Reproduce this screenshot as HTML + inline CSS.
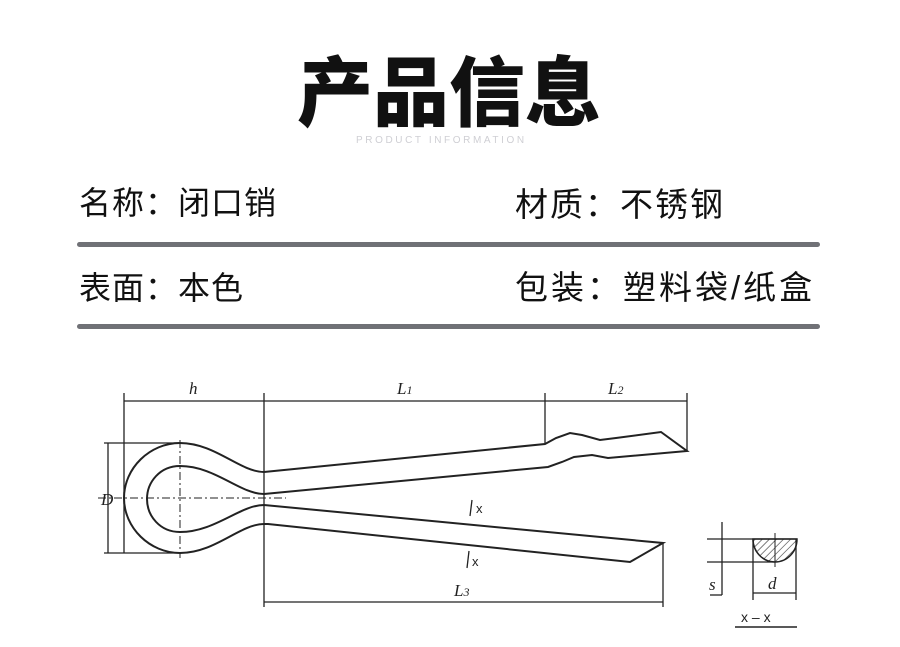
<!DOCTYPE html>
<html><head><meta charset="utf-8"><style>
body{margin:0;background:#fff;}
#c{position:relative;width:900px;height:647px;overflow:hidden;background:#fff;font-family:"Liberation Sans","Noto Sans CJK SC",sans-serif;}
.t{position:absolute;white-space:nowrap;color:#111;}
.bar{position:absolute;left:77px;width:743px;height:5px;background:#707176;border-radius:3px;}
</style></head><body><div id="c">
<div class="t" style="left:297px;top:39px;font-size:76px;font-weight:900;line-height:96px;font-family:'Noto Sans CJK SC',sans-serif;letter-spacing:0px;">产品信息</div>
<div class="t" style="left:356px;top:135px;font-size:10px;color:#cfcfd4;letter-spacing:2.6px;">PRODUCT INFORMATION</div>
<div class="t" style="left:79px;top:183px;font-size:32px;line-height:40px;letter-spacing:1px;">名称：闭口销</div>
<div class="t" style="left:515px;top:185px;font-size:33px;line-height:40px;letter-spacing:2px;">材质：不锈钢</div>
<div class="bar" style="top:242px"></div>
<div class="t" style="left:79px;top:268px;font-size:32px;line-height:40px;letter-spacing:1px;">表面：本色</div>
<div class="t" style="left:515px;top:268px;font-size:33px;line-height:40px;letter-spacing:3px;">包装：塑料袋/纸盒</div>
<div class="bar" style="top:324px"></div>
<svg width="900" height="647" style="position:absolute;left:0;top:0" fill="none" stroke="#222" stroke-width="1.3">
<defs><pattern id="h" width="5" height="5" patternUnits="userSpaceOnUse" patternTransform="rotate(45)"><line x1="0" y1="0" x2="0" y2="5" stroke="#333" stroke-width="1.2"/></pattern></defs>
<line x1="124" y1="393" x2="124" y2="553"/>
<line x1="264" y1="393" x2="264" y2="607"/>
<line x1="545" y1="393" x2="545" y2="444"/>
<line x1="687" y1="393" x2="687" y2="451"/>
<line x1="124" y1="401" x2="687" y2="401"/>
<line x1="663" y1="543" x2="663" y2="607"/>
<line x1="264" y1="602" x2="663" y2="602"/>
<line x1="104" y1="443" x2="181" y2="443"/>
<line x1="104" y1="553" x2="181" y2="553"/>
<line x1="108" y1="443" x2="108" y2="553"/>
<line x1="98" y1="498" x2="286" y2="498" stroke-dasharray="8 3 2 3" stroke-width="1"/>
<line x1="180" y1="440" x2="180" y2="558" stroke-dasharray="8 3 2 3" stroke-width="1"/>
<path stroke-width="2" d="M264 472 L545 444 L556 438 L570 433 L582 435 L600 440 L616 438 L661 432 L687 451 L608 458 L592 455 L574 457 L562 462 L548 467 L264 494 C240 494 215 466 180 466 C160 466 147 482 147 499 C147 516 160 532 180 532 C215 532 240 505 264 505 L663 543 L630 562 L268 524 L264 524 C240 524 215 553 180 553 C150 553 124 528 124 498 C124 468 150 443 180 443 C215 443 240 472 264 472 Z"/>
<line x1="472" y1="500" x2="470" y2="516" stroke-width="1.3"/>
<line x1="469" y1="551" x2="467" y2="568" stroke-width="1.3"/>
<line x1="707" y1="539" x2="797" y2="539"/>
<line x1="707" y1="562" x2="775" y2="562"/>
<path d="M753 539 L797 539 C797 552 787 562 775 562 C763 562 753 552 753 539 Z" fill="url(#h)" stroke-width="1.5"/>
<line x1="722" y1="522" x2="722" y2="595"/>
<line x1="710" y1="595" x2="722" y2="595"/>
<line x1="753" y1="539" x2="753" y2="600"/>
<line x1="796" y1="539" x2="796" y2="600"/>
<line x1="753" y1="593" x2="796" y2="593"/>
<line x1="775" y1="533" x2="775" y2="567" stroke-width="1"/>
<line x1="735" y1="627" x2="797" y2="627" stroke-width="1.5"/>
<g fill="#222" stroke="none" font-family="Liberation Serif,serif" font-style="italic" font-size="17">
<text x="189" y="394">h</text>
<text x="397" y="394">L<tspan font-size="12">1</tspan></text>
<text x="608" y="394">L<tspan font-size="12">2</tspan></text>
<text x="454" y="596">L<tspan font-size="12">3</tspan></text>
<text x="101" y="505">D</text>
<text x="709" y="590">s</text>
<text x="768" y="589">d</text>
<text x="476" y="513" font-style="normal" font-size="13" font-family="Liberation Sans,sans-serif">x</text>
<text x="472" y="566" font-style="normal" font-size="13" font-family="Liberation Sans,sans-serif">x</text>
<text x="741" y="622" font-style="normal" font-size="14" font-family="Liberation Sans,sans-serif">x – x</text>
</g>
</svg>
</div></body></html>
